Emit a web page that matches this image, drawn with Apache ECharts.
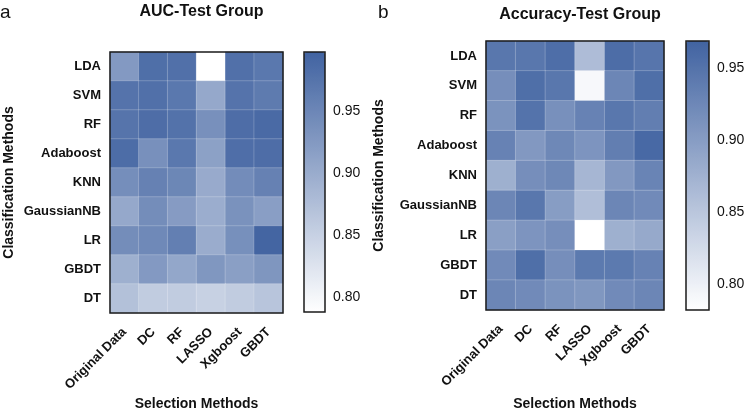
<!DOCTYPE html>
<html>
<head>
<meta charset="utf-8">
<script src="https://cdn.jsdelivr.net/npm/echarts@6/dist/echarts.min.js"></script>
<style>
  html, body { margin: 0; padding: 0; background: #fff; }
  #chart { width: 747px; height: 411px; }
</style>
</head>
<body>
<div id="chart"></div>
<script>
// selection methods (x) and classification methods (y)
const selectionMethods = ["Original Data", "DC", "RF", "LASSO", "Xgboost", "GBDT"];
const classMethods = ["LDA", "SVM", "RF", "Adaboost", "KNN", "GaussianNB", "LR", "GBDT", "DT"];
const barTicks = [0.80, 0.85, 0.90, 0.95];

// AUC - test group, one row per classification method
const aucLDA        = [0.925, 0.982, 0.980, 0.788, 0.980, 0.970];
const aucSVM        = [0.976, 0.980, 0.970, 0.905, 0.976, 0.966];
const aucRF         = [0.975, 0.984, 0.978, 0.937, 0.984, 0.988];
const aucAdaboost   = [0.985, 0.937, 0.970, 0.915, 0.983, 0.984];
const aucKNN        = [0.940, 0.957, 0.950, 0.902, 0.943, 0.957];
const aucGaussianNB = [0.905, 0.942, 0.922, 0.898, 0.935, 0.918];
const aucLR         = [0.942, 0.947, 0.960, 0.900, 0.938, 0.995];
const aucGBDT       = [0.895, 0.925, 0.907, 0.928, 0.917, 0.930];
const aucDT         = [0.872, 0.857, 0.857, 0.850, 0.857, 0.866];
const aucRange = [0.788, 0.998];

// Accuracy - test group
const accLDA        = [0.945, 0.945, 0.956, 0.862, 0.957, 0.947];
const accSVM        = [0.917, 0.955, 0.945, 0.790, 0.927, 0.955];
const accRF         = [0.912, 0.950, 0.915, 0.932, 0.945, 0.937];
const accAdaboost   = [0.932, 0.905, 0.925, 0.910, 0.937, 0.962];
const accKNN        = [0.877, 0.917, 0.925, 0.870, 0.905, 0.930];
const accGaussianNB = [0.927, 0.945, 0.900, 0.860, 0.927, 0.922];
const accLR         = [0.897, 0.910, 0.917, 0.782, 0.877, 0.885];
const accGBDT       = [0.922, 0.955, 0.917, 0.942, 0.942, 0.932];
const accDT         = [0.927, 0.922, 0.912, 0.907, 0.922, 0.927];
const accRange = [0.782, 0.969];

const aucRows = [aucLDA, aucSVM, aucRF, aucAdaboost, aucKNN, aucGaussianNB, aucLR, aucGBDT, aucDT];
const accRows = [accLDA, accSVM, accRF, accAdaboost, accKNN, accGaussianNB, accLR, accGBDT, accDT];

function toCells(rows) {
  const out = [];
  rows.forEach((row, y) => row.forEach((v, x) => out.push([x, y, v])));
  return out;
}

const font = "Liberation Sans, Arial, Helvetica, sans-serif";
const colors = ["#ffffff", "#4163a1"];

// panel layout (px)
const panels = [
  { title: "AUC-Test Group", letter: "a", rows: aucRows, range: aucRange,
    titleTop: -1, letterLeft: 0, xNameGap: 84, yNameGap: 94,
    grid: { left: 110, top: 52, width: 173, height: 261 },
    bar: { left: 304, top: 52, width: 21, height: 260 } },
  { title: "Accuracy-Test Group", letter: "b", rows: accRows, range: accRange,
    titleTop: 2, letterLeft: 378, xNameGap: 87, yNameGap: 100,
    grid: { left: 486, top: 41, width: 178, height: 269 },
    bar: { left: 686, top: 41, width: 23, height: 269 } }
];

const chart = echarts.init(document.getElementById("chart"));

const option = {
  animation: false,
  textStyle: { fontFamily: font },
  title: [],
  grid: [],
  xAxis: [],
  yAxis: [],
  visualMap: [],
  series: []
};

panels.forEach((p, i) => {
  const g = option.grid.length;
  // heatmap grid
  option.grid.push({
    left: p.grid.left, top: p.grid.top, width: p.grid.width, height: p.grid.height,
    show: true, borderColor: "#1a1a1a", borderWidth: 1.5, z: 10, outerBoundsMode: "none"
  });
  // colour bar grid (axis ticks + frame)
  option.grid.push({
    left: p.bar.left, top: p.bar.top, width: p.bar.width, height: p.bar.height,
    show: true, borderColor: "#1a1a1a", borderWidth: 1.5, z: 10, outerBoundsMode: "none"
  });

  option.title.push({
    text: p.title, left: p.grid.left + p.grid.width / 2, top: p.titleTop, textAlign: "center",
    textStyle: { fontSize: 16, fontWeight: "bold", color: "#111", fontFamily: font }
  });
  option.title.push({
    text: p.letter, left: p.letterLeft, top: 3, padding: 0,
    textStyle: { fontSize: 19, fontWeight: "normal", color: "#111", fontFamily: font }
  });

  option.xAxis.push({
    type: "category", gridIndex: g, data: selectionMethods,
    axisLine: { show: false }, axisTick: { show: false }, splitLine: { show: false },
    axisLabel: { rotate: 45, fontSize: 13, fontWeight: "bold", color: "#111", margin: 17, interval: 0 }
  });
  option.yAxis.push({
    type: "category", gridIndex: g, data: classMethods, inverse: true,
    name: "Classification Methods", nameLocation: "middle", nameGap: p.yNameGap, nameMoveOverlap: false,
    nameTextStyle: { fontSize: 14, fontWeight: "bold", color: "#111" },
    axisLine: { show: false }, axisTick: { show: false }, splitLine: { show: false },
    axisLabel: { fontSize: 13, fontWeight: "bold", color: "#111", margin: 9, interval: 0 }
  });
  // x axis title as a plain text title under the grid
  option.title.push({
    text: "Selection Methods", left: p.grid.left + p.grid.width / 2, textAlign: "center",
    top: p.grid.top + p.grid.height + p.xNameGap, padding: 0,
    textStyle: { fontSize: 14, fontWeight: "bold", color: "#111", fontFamily: font }
  });

  // colour bar axes
  option.xAxis.push({ type: "value", gridIndex: g + 1, show: false });
  option.yAxis.push({
    type: "value", gridIndex: g + 1, position: "right", min: p.range[0], max: p.range[1],
    axisLine: { show: false }, splitLine: { show: false },
    axisTick: { show: true, inside: false, length: 5, lineStyle: { color: "#1a1a1a", width: 1.2 }, customValues: barTicks },
    axisLabel: { fontSize: 14, color: "#111", margin: 8, customValues: barTicks, formatter: v => v.toFixed(2) }
  });
  option.yAxis.push({
    type: "value", gridIndex: g + 1, position: "left", min: p.range[0], max: p.range[1],
    axisLine: { show: false }, splitLine: { show: false },
    axisTick: { show: true, inside: true, length: 4, lineStyle: { color: "#1a1a1a", width: 1.2 }, customValues: barTicks },
    axisLabel: { show: false }
  });

  const sIdx = option.series.length;
  option.visualMap.push({
    type: "continuous", seriesIndex: sIdx, min: p.range[0], max: p.range[1],
    calculable: false, showLabel: false, text: null,
    left: p.bar.left, top: p.bar.top, itemWidth: p.bar.width, itemHeight: p.bar.height,
    padding: 0, inRange: { color: colors }
  });
  option.series.push({
    type: "heatmap", xAxisIndex: i === 0 ? 0 : 2, yAxisIndex: i === 0 ? 0 : 3,
    data: toCells(p.rows),
    itemStyle: { borderColor: "rgba(255,255,255,0.35)", borderWidth: 0.6 },
    emphasis: { disabled: true }
  });
});

chart.setOption(option);
</script>
</body>
</html>
